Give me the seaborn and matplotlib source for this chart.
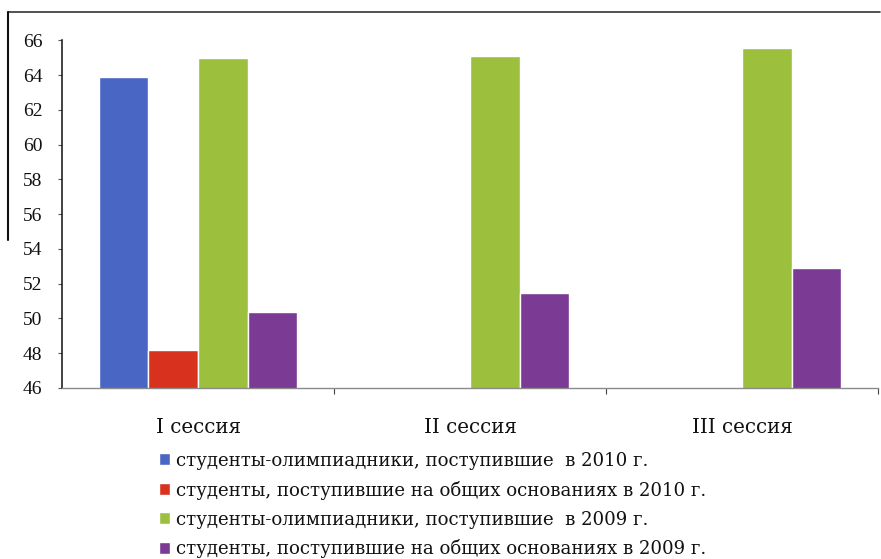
import pandas as pd
import matplotlib
matplotlib.use("Agg")
import matplotlib.pyplot as plt
import seaborn as sns
from matplotlib.lines import Line2D

# данные
sessions = ['I сессия', 'II сессия', 'III сессия']
groups = [
    'студенты-олимпиадники, поступившие  в 2010 г.',
    'студенты, поступившие на общих основаниях в 2010 г.',
    'студенты-олимпиадники, поступившие  в 2009 г.',
    'студенты, поступившие на общих основаниях в 2009 г.',
]
olymp_2010 = [63.9, None, None]
general_2010 = [48.2, None, None]
olymp_2009 = [65.0, 65.1, 65.55]
general_2009 = [50.35, 51.45, 52.9]
colors = ['#4a66c4', '#d8321e', '#9cc03e', '#7b3a94']

rows = []
for grp, vals in zip(groups, [olymp_2010, general_2010, olymp_2009, general_2009]):
    for s, v in zip(sessions, vals):
        if v is not None:
            rows.append({'session': s, 'group': grp, 'value': v})
df = pd.DataFrame(rows)

sns.set_style('white')
plt.rcParams['font.family'] = ['Liberation Serif', 'DejaVu Serif']

fig = plt.figure(figsize=(8.81, 5.59), dpi=100)
ax = fig.add_axes([0.0704, 0.306, 0.9262, 0.622])

sns.barplot(data=df, x='session', y='value', hue='group', order=sessions,
            hue_order=groups, palette=colors, width=0.73, saturation=1,
            errorbar=None, ax=ax, legend=True)

ax.set_ylim(46, 66)
ax.set_yticks(range(46, 67, 2))
ax.set_xlim(-0.5, 2.5)
ax.set_xlabel('')
ax.set_ylabel('')

sns.despine(ax=ax, top=True, right=True)
ax.spines['left'].set_color('#222222')
ax.spines['left'].set_linewidth(1.2)
ax.spines['bottom'].set_color('#8a8a8a')
ax.spines['bottom'].set_linewidth(1.0)

ax.tick_params(axis='y', left=True, length=3, width=0.8, color='#555555',
               pad=11)
for lbl in ax.get_yticklabels():
    lbl.set_fontfamily(['Liberation Serif', 'DejaVu Serif'])
    lbl.set_fontsize(14)
    lbl.set_color('#111111')
ax.tick_params(axis='x', which='major', bottom=False, pad=18)
for lbl in ax.get_xticklabels():
    lbl.set_fontfamily(['DejaVu Serif'])
    lbl.set_fontsize(14.3)
    lbl.set_color('#111111')
ax.set_xticks([0.5, 1.5, 2.5], minor=True)
ax.tick_params(axis='x', which='minor', bottom=True, length=4, width=0.8,
               color='#444444')

handles, labels = ax.get_legend_handles_labels()
ax.get_legend().remove()
fig.legend(handles, labels, loc='upper left', bbox_to_anchor=(0.172, 0.205),
           frameon=False, prop={'family': ['DejaVu Serif'], 'size': 13.1},
           handlelength=0.6, handleheight=0.6, handletextpad=0.35,
           labelspacing=0.6, borderaxespad=0, labelcolor='#111111')

# рамка скана
fig.add_artist(Line2D([0.009, 0.999], [0.978, 0.978], color='#333333', lw=1.2))
fig.add_artist(Line2D([0.009, 0.009], [0.978, 0.57], color='#111111', lw=1.5))

fig.savefig('out.png', dpi=100)
